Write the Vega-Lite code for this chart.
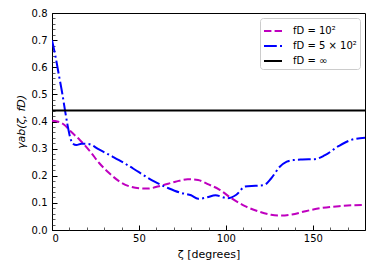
{
  "$schema": "https://vega.github.io/schema/vega-lite/v6.json",
  "width": 313,
  "height": 217,
  "autosize": {"type": "none"},
  "padding": {"left": 52, "top": 13, "right": 9, "bottom": 45},
  "config": {
    "font": "DejaVu Sans",
    "view": {"stroke": "black", "strokeWidth": 1},
    "axis": {
      "domainColor": "black",
      "tickColor": "black",
      "labelColor": "black",
      "titleColor": "black",
      "labelFont": "DejaVu Sans",
      "titleFont": "DejaVu Sans",
      "labelFontSize": 10,
      "titleFontWeight": "normal",
      "grid": false
    }
  },
  "data": {
    "values": [
      {"zeta": 0, "gamma": 0.403, "series": "fD = 10²"},
      {"zeta": 3, "gamma": 0.400, "series": "fD = 10²"},
      {"zeta": 7, "gamma": 0.388, "series": "fD = 10²"},
      {"zeta": 11, "gamma": 0.362, "series": "fD = 10²"},
      {"zeta": 16, "gamma": 0.332, "series": "fD = 10²"},
      {"zeta": 22, "gamma": 0.289, "series": "fD = 10²"},
      {"zeta": 27, "gamma": 0.248, "series": "fD = 10²"},
      {"zeta": 33, "gamma": 0.209, "series": "fD = 10²"},
      {"zeta": 39, "gamma": 0.178, "series": "fD = 10²"},
      {"zeta": 45, "gamma": 0.160, "series": "fD = 10²"},
      {"zeta": 50, "gamma": 0.154, "series": "fD = 10²"},
      {"zeta": 55, "gamma": 0.153, "series": "fD = 10²"},
      {"zeta": 63, "gamma": 0.164, "series": "fD = 10²"},
      {"zeta": 71, "gamma": 0.178, "series": "fD = 10²"},
      {"zeta": 78, "gamma": 0.187, "series": "fD = 10²"},
      {"zeta": 84, "gamma": 0.184, "series": "fD = 10²"},
      {"zeta": 90, "gamma": 0.168, "series": "fD = 10²"},
      {"zeta": 96, "gamma": 0.150, "series": "fD = 10²"},
      {"zeta": 103, "gamma": 0.118, "series": "fD = 10²"},
      {"zeta": 111, "gamma": 0.088, "series": "fD = 10²"},
      {"zeta": 119, "gamma": 0.068, "series": "fD = 10²"},
      {"zeta": 126, "gamma": 0.056, "series": "fD = 10²"},
      {"zeta": 132, "gamma": 0.053, "series": "fD = 10²"},
      {"zeta": 138, "gamma": 0.057, "series": "fD = 10²"},
      {"zeta": 145, "gamma": 0.068, "series": "fD = 10²"},
      {"zeta": 153, "gamma": 0.079, "series": "fD = 10²"},
      {"zeta": 165, "gamma": 0.088, "series": "fD = 10²"},
      {"zeta": 172, "gamma": 0.091, "series": "fD = 10²"},
      {"zeta": 180, "gamma": 0.092, "series": "fD = 10²"},
      {"zeta": 0, "gamma": 0.700, "series": "fD = 5 × 10²"},
      {"zeta": 2, "gamma": 0.640, "series": "fD = 5 × 10²"},
      {"zeta": 4, "gamma": 0.570, "series": "fD = 5 × 10²"},
      {"zeta": 6, "gamma": 0.500, "series": "fD = 5 × 10²"},
      {"zeta": 7.5, "gamma": 0.440, "series": "fD = 5 × 10²"},
      {"zeta": 9, "gamma": 0.385, "series": "fD = 5 × 10²"},
      {"zeta": 10.5, "gamma": 0.340, "series": "fD = 5 × 10²"},
      {"zeta": 12, "gamma": 0.318, "series": "fD = 5 × 10²"},
      {"zeta": 14, "gamma": 0.313, "series": "fD = 5 × 10²"},
      {"zeta": 17, "gamma": 0.318, "series": "fD = 5 × 10²"},
      {"zeta": 21, "gamma": 0.317, "series": "fD = 5 × 10²"},
      {"zeta": 27, "gamma": 0.297, "series": "fD = 5 × 10²"},
      {"zeta": 35, "gamma": 0.270, "series": "fD = 5 × 10²"},
      {"zeta": 42, "gamma": 0.245, "series": "fD = 5 × 10²"},
      {"zeta": 50, "gamma": 0.213, "series": "fD = 5 × 10²"},
      {"zeta": 59, "gamma": 0.178, "series": "fD = 5 × 10²"},
      {"zeta": 67, "gamma": 0.154, "series": "fD = 5 × 10²"},
      {"zeta": 74, "gamma": 0.137, "series": "fD = 5 × 10²"},
      {"zeta": 80, "gamma": 0.128, "series": "fD = 5 × 10²"},
      {"zeta": 84, "gamma": 0.115, "series": "fD = 5 × 10²"},
      {"zeta": 89, "gamma": 0.120, "series": "fD = 5 × 10²"},
      {"zeta": 94, "gamma": 0.128, "series": "fD = 5 × 10²"},
      {"zeta": 101, "gamma": 0.117, "series": "fD = 5 × 10²"},
      {"zeta": 106, "gamma": 0.130, "series": "fD = 5 × 10²"},
      {"zeta": 111, "gamma": 0.160, "series": "fD = 5 × 10²"},
      {"zeta": 117, "gamma": 0.163, "series": "fD = 5 × 10²"},
      {"zeta": 122, "gamma": 0.166, "series": "fD = 5 × 10²"},
      {"zeta": 126, "gamma": 0.190, "series": "fD = 5 × 10²"},
      {"zeta": 131, "gamma": 0.233, "series": "fD = 5 × 10²"},
      {"zeta": 135, "gamma": 0.252, "series": "fD = 5 × 10²"},
      {"zeta": 139, "gamma": 0.258, "series": "fD = 5 × 10²"},
      {"zeta": 144, "gamma": 0.260, "series": "fD = 5 × 10²"},
      {"zeta": 151, "gamma": 0.261, "series": "fD = 5 × 10²"},
      {"zeta": 157, "gamma": 0.276, "series": "fD = 5 × 10²"},
      {"zeta": 165, "gamma": 0.310, "series": "fD = 5 × 10²"},
      {"zeta": 172, "gamma": 0.332, "series": "fD = 5 × 10²"},
      {"zeta": 180, "gamma": 0.340, "series": "fD = 5 × 10²"},
      {"zeta": 0, "gamma": 0.441, "series": "fD = ∞"},
      {"zeta": 180, "gamma": 0.441, "series": "fD = ∞"}
    ]
  },
  "resolve": {"axis": {"x": "independent", "y": "independent"}},
  "layer": [
    {
      "mark": {"type": "line", "strokeWidth": 2, "interpolate": "monotone", "clip": true},
      "encoding": {
        "x": {
          "field": "zeta", "type": "quantitative",
          "scale": {"domain": [0, 180], "nice": false, "zero": false},
          "axis": {
            "orient": "bottom",
            "values": [0, 50, 100, 150],
            "tickSize": -5, "tickWidth": 1, "labelPadding": 8,
            "title": "ζ [degrees]", "titleFontSize": 11, "titlePadding": 5
          }
        },
        "y": {
          "field": "gamma", "type": "quantitative",
          "scale": {"domain": [0, 0.8], "nice": false},
          "axis": {
            "orient": "left",
            "values": [0, 0.1, 0.2, 0.3, 0.4, 0.5, 0.6, 0.7, 0.8],
            "format": ".1f",
            "tickSize": -5, "tickWidth": 1, "labelPadding": 10,
            "title": "γab(ζ, fD)", "titleFontSize": 11, "titleFontStyle": "italic", "titlePadding": 5
          }
        },
        "color": {
          "field": "series", "type": "nominal",
          "scale": {
            "domain": ["fD = 10²", "fD = 5 × 10²", "fD = ∞"],
            "range": ["#bf00bf", "#0000ff", "#000000"]
          },
          "legend": {
            "title": null,
            "orient": "top-right",
            "offset": 5,
            "symbolType": "stroke",
            "symbolSize": 324,
            "symbolStrokeWidth": 2,
            "labelFontSize": 10,
            "labelFont": "DejaVu Sans",
            "labelColor": "black",
            "labelOffset": 10,
            "rowPadding": -1,
            "padding": 3,
            "strokeColor": "#cccccc",
            "fillColor": "white",
            "cornerRadius": 3
          }
        },
        "strokeDash": {
          "field": "series", "type": "nominal",
          "scale": {
            "domain": ["fD = 10²", "fD = 5 × 10²", "fD = ∞"],
            "range": [[7.4, 3.2], [12.8, 3.2, 2, 3.2], [1, 0]]
          },
          "legend": null
        }
      }
    },
    {
      "mark": {"type": "point", "opacity": 0},
      "encoding": {
        "x": {
          "field": "zeta", "type": "quantitative",
          "axis": {
            "orient": "bottom",
            "values": [10, 20, 30, 40, 60, 70, 80, 90, 110, 120, 130, 140, 160, 170],
            "tickSize": -3, "tickWidth": 0.8, "tickColor": "#333333",
            "labels": false, "domain": false, "title": null
          }
        },
        "y": {
          "field": "gamma", "type": "quantitative",
          "axis": {
            "orient": "left",
            "values": [0.02, 0.04, 0.06, 0.08, 0.12, 0.14, 0.16, 0.18, 0.22, 0.24, 0.26, 0.28, 0.32, 0.34, 0.36, 0.38, 0.42, 0.44, 0.46, 0.48, 0.52, 0.54, 0.56, 0.58, 0.62, 0.64, 0.66, 0.68, 0.72, 0.74, 0.76, 0.78],
            "tickSize": -3, "tickWidth": 0.8, "tickColor": "#333333",
            "labels": false, "domain": false, "title": null
          }
        }
      }
    }
  ]
}
